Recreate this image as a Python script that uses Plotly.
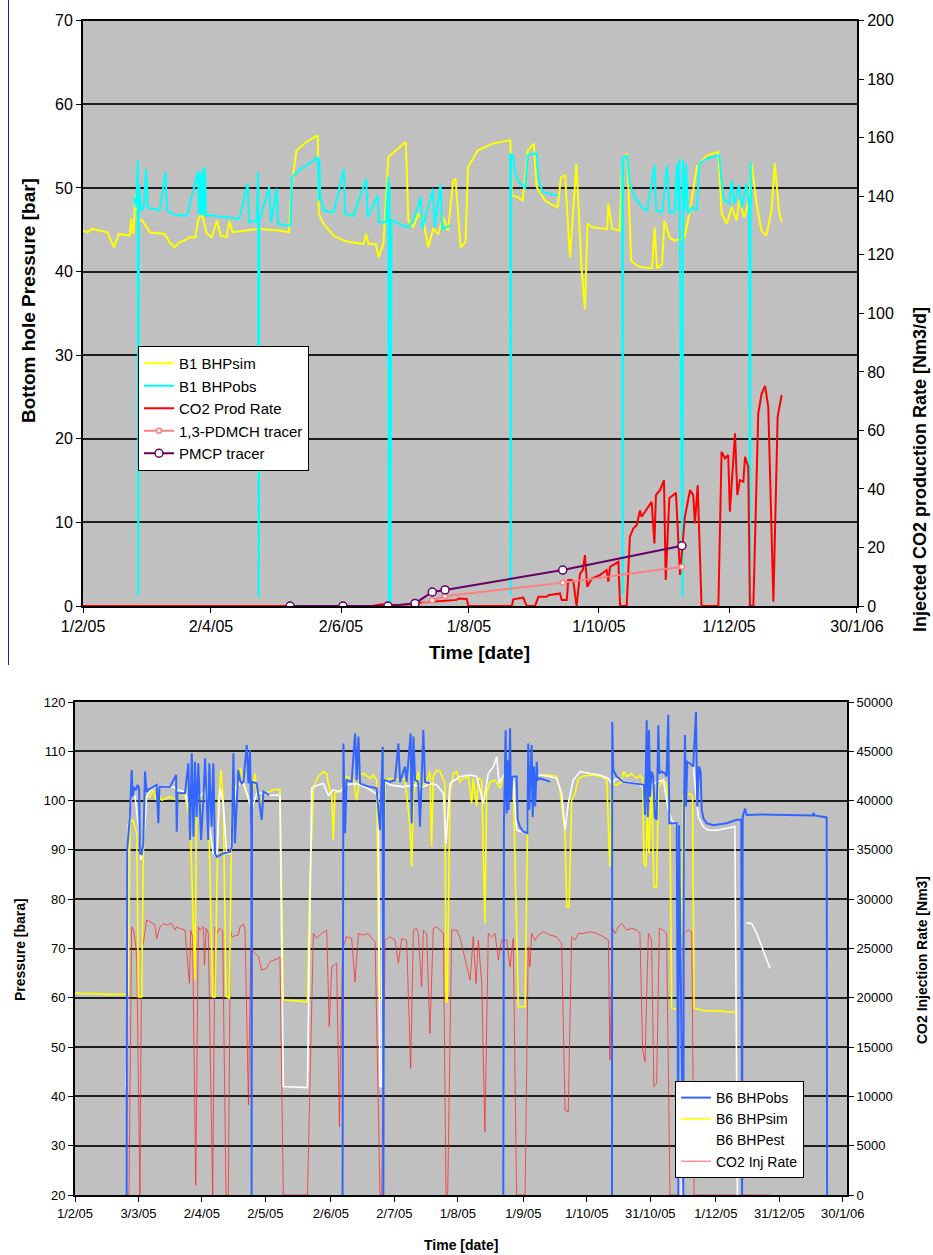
import pandas as pd
import plotly.graph_objects as go

START = pd.Timestamp("2005-02-01")

# ---------------- Well B1 (upper chart) ----------------
# (days since 1 Feb 2005, value)
b1_bhp_sim = [(0, 44.9), (2.1, 44.7), (4.4, 45.1), (7.9, 44.9), (11.4, 44.7), (14.5, 42.9), (16.8, 44.5), (21.9, 44.3),
              (22.6, 46.3), (23.6, 44.5), (24.7, 49.1), (26.1, 46.3), (27.8, 46.1), (31.3, 44.7), (38.3, 44.5), (40.6, 43.5),
              (42.9, 42.9), (45.3, 43.5), (47.6, 43.7), (49.9, 44.1), (52.7, 44.1), (54.1, 46.3), (55.8, 46.9), (58.1, 44.5),
              (60.4, 44.1), (62.8, 46.1), (64.6, 44.3), (67.4, 44.1), (68.6, 46.0), (70.2, 44.7), (77.9, 44.9), (82.6, 45.1),
              (91.9, 44.9), (96.6, 44.7), (97.8, 50.1), (100.1, 54.5), (104.8, 55.5), (109.4, 56.2), (110.1, 56.2), (110.6, 46.9),
              (112.9, 45.7), (117.6, 44.3), (122.3, 43.7), (125.7, 43.5), (131.6, 43.3), (132.8, 44.5), (133.9, 43.3), (137.4, 43.3),
              (138.6, 41.7), (140.9, 43.3), (143.2, 53.7), (146.7, 54.5), (151.4, 55.5), (152.6, 46.1), (154.9, 45.3), (157.2, 46.9),
              (159.6, 46.1), (161.9, 42.9), (164.2, 45.1), (166.6, 44.5), (168.9, 46.5), (171.2, 44.9), (173.6, 50.9), (174.7, 51.1),
              (177.1, 42.9), (179.4, 43.5), (180.6, 52.5), (185.2, 54.5), (192.2, 55.3), (200.4, 55.7), (201.1, 49.1), (203.9, 48.9),
              (206.2, 48.5), (208.6, 54.5), (211.4, 55.3), (212.8, 50.1), (216.7, 48.5), (219.1, 48.1), (222.6, 47.7), (224.2, 51.3),
              (226.1, 51.5), (228.4, 41.7), (231.4, 52.9), (233.8, 40.5), (235.4, 35.5), (236.6, 45.7), (238.9, 45.3), (245.9, 45.1),
              (246.4, 48.1), (248.2, 45.1), (251.7, 44.9), (252.9, 53.3), (255.2, 54.1), (257.1, 41.3), (259.9, 40.7), (262.2, 40.5),
              (266.9, 40.4), (268.1, 45.3), (269.2, 40.4), (271.6, 40.9), (272.7, 46.1), (275.1, 44.1), (277.4, 43.7), (282.1, 44.1),
              (284.4, 46.9), (287.9, 52.5), (292.6, 53.9), (297.9, 54.3), (299.6, 46.9), (301.9, 45.7), (304.2, 47.7), (306.6, 46.1),
              (307.7, 48.5), (310.1, 46.5), (312.4, 48.5), (313.6, 52.9), (315.9, 48.1), (318.2, 44.9), (320.5, 44.3), (322.9, 47.3),
              (324.5, 52.9), (326.4, 47.3), (327.6, 45.9)]

b1_bhp_obs = [(23.8, 48.9), (25.0, 47.7), (25.7, 53.3), (25.9, 1.3), (26.2, 50.5), (27.1, 47.3), (28.5, 47.7), (29.6, 52.3),
              (30.3, 47.7), (32.4, 47.5), (35.9, 47.3), (38.7, 51.9), (39.4, 47.3), (41.8, 46.9), (45.3, 46.7), (48.8, 46.7),
              (53.9, 51.9), (54.4, 46.9), (54.8, 51.7), (55.3, 46.7), (56.0, 52.3), (56.5, 46.7), (57.2, 52.5), (57.6, 46.7),
              (60.4, 46.7), (66.3, 46.5), (73.3, 46.3), (77.2, 50.5), (77.9, 45.9), (81.4, 46.1), (82.1, 51.9), (82.4, 1.1),
              (82.7, 46.1), (87.3, 50.1), (88.2, 45.9), (90.8, 49.9), (91.5, 45.7), (95.4, 45.5), (97.3, 45.5), (98.0, 51.3),
              (101.3, 52.1), (105.9, 52.9), (110.1, 53.7), (110.6, 48.5), (110.8, 53.5), (111.3, 48.5), (111.8, 48.5), (112.9, 47.3),
              (117.6, 47.1), (122.3, 52.3), (123.0, 46.9), (126.9, 46.7), (132.8, 51.1), (133.5, 46.5), (138.1, 49.1), (138.8, 45.9),
              (142.1, 45.9), (143.2, 51.3), (143.5, 0.1), (143.7, 50.5), (144.2, 0.1), (144.6, 46.1), (145.6, 46.1), (147.9, 45.7),
              (152.6, 45.3), (154.9, 46.1), (158.4, 48.9), (159.1, 45.1), (164.2, 49.9), (164.9, 45.3), (167.7, 50.5), (168.4, 45.1),
              (172.4, 45.5), (186.0, None), (200.4, 54.1), (200.6, 1.3), (200.8, 54.1), (201.6, 53.9), (202.7, 51.9), (203.9, 50.9),
              (206.2, 50.3), (207.4, 49.9), (208.6, 53.9), (210.9, 54.1), (212.8, 54.1), (213.7, 50.9), (215.6, 49.5), (219.1, 49.3),
              (222.6, 49.1), (238.0, None), (252.9, 53.5), (253.1, 1.3), (253.3, 53.5), (255.2, 53.9), (256.4, 50.5), (258.7, 48.9),
              (262.2, 47.7), (264.6, 47.3), (268.1, 52.7), (268.8, 47.3), (271.6, 47.1), (273.9, 52.7), (275.1, 47.1), (277.4, 47.1),
              (278.6, 52.9), (279.3, 47.3), (279.7, 53.5), (281.2, 1.1), (281.4, 53.3), (282.1, 47.3), (282.8, 52.9), (283.7, 46.9),
              (285.6, 47.7), (287.9, 47.3), (289.1, 52.9), (292.6, 53.5), (298.4, 53.9), (299.6, 50.5), (300.7, 48.5), (303.1, 48.1),
              (304.2, 50.9), (305.4, 48.1), (307.7, 50.3), (308.9, 47.7), (311.2, 50.5), (312.4, 47.9), (312.8, 0.1), (313.1, 53.1),
              (313.4, 48.0)]

# CO2 production rate, Nm3/d (right axis)
b1_co2_prod = [(0, 0), (135.5, 0), (140.0, 0.6), (148.7, 0.3), (155.7, 0.9), (163.5, 1.5), (175.3, 2.1), (176.1, 2.6),
               (180.0, 2.4), (180.7, 0), (201.1, 0), (201.8, 2.3), (206.5, 2.9), (208.1, 0), (212.0, 0), (213.6, 3.2),
               (217.5, 3.2), (218.3, 3.7), (223.7, 4.3), (224.5, 2.1), (226.9, 2.1), (227.6, 8.9), (229.2, 8.9), (230.0, 8.3),
               (231.5, 0), (233.1, 11.1), (234.4, 12.3), (235.4, 17.4), (236.5, 6.6), (238.6, 9.4), (242.5, 10.6), (245.6, 12.3),
               (246.4, 8.3), (247.2, 13.4), (251.1, 15.1), (251.9, 0), (255.0, 0), (256.5, 23.7), (258.1, 26.5), (259.7, 27.7),
               (261.2, 32.6), (262.0, 30.5), (266.7, 35.6), (268.0, 21.4), (268.7, 37.9), (270.6, 39.6), (272.5, 43.0), (273.3, 8.9),
               (275.0, 36.8), (278.1, 38.7), (280.0, 10.6), (282.3, 30.5), (284.7, 39.6), (286.2, 37.9), (287.0, 28.2), (288.3, 41.3),
               (290.1, 0), (298.0, 0), (299.5, 52.7), (301.1, 50.4), (302.6, 51.6), (303.4, 32.2), (305.8, 59.0), (306.9, 37.9),
               (308.1, 43.0), (309.7, 42.5), (310.5, 51.0), (312.0, 47.6), (312.8, 0), (314.4, 0), (316.7, 65.8), (318.3, 72.6),
               (319.9, 75.2), (321.4, 68.1), (323.8, 1.5), (325.8, 64.7), (327.7, 72.1)]

tracer_days = [97.1, 121.9, 143.0, 155.7, 163.8, 169.8, 225.0, 280.9]
pdmch_tracer = [0, 0, 0, 0, 2.0, 3.4, 8.0, 13.4]
pmcp_tracer = [0, 0, 0, 0.9, 4.8, 5.5, 12.3, 20.6]

top_ticks = ["2005-02-01", "2005-04-02", "2005-06-02", "2005-08-01", "2005-10-01", "2005-12-01", "2006-01-30"]
top_tick_text = ["1/2/05", "2/4/05", "2/6/05", "1/8/05", "1/10/05", "1/12/05", "30/1/06"]

# ---------------- Well B6 (lower chart) ----------------
b6_bhp_obs = [(24.4, 20), (24.7, 90.0), (26.0, 97.4), (26.8, 106.2), (27.3, 100.8), (27.9, 102.8), (28.7, 102.1), (29.6, 103.2),
              (30.3, 102.5), (30.7, 89.3), (31.5, 89.0), (32.3, 91.3), (33.1, 105.9), (33.9, 101.8), (34.7, 102.2), (38.6, 103.2),
              (39.4, 95.4), (39.9, 102.8), (44.9, 102.8), (47.8, 105.2), (48.1, 93.7), (48.5, 101.5), (52.0, 101.5), (53.6, 107.6),
              (54.4, 92.0), (55.2, 109.6), (56.0, 92.7), (56.7, 107.9), (57.5, 96.7), (58.3, 107.6), (59.6, 92.0), (60.7, 100.1),
              (61.5, 108.6), (62.3, 98.1), (63.0, 92.0), (63.5, 107.6), (64.6, 94.7), (65.4, 107.6), (66.2, 89.3), (67.0, 88.6),
              (70.1, 89.3), (73.3, 89.6), (74.1, 90.7), (74.9, 109.6), (75.6, 91.3), (77.2, 106.2), (78.0, 104.2), (78.8, 103.5),
              (79.6, 103.8), (81.2, 111.3), (82.0, 103.5), (82.7, 110.3), (83.4, 93.4), (83.5, 20), (83.7, 103.8), (85.9, 103.5),
              (88.3, 96.1), (89.1, 101.8), (91.9, 101.1), (110.0, None),
              (126.5, 20), (126.9, 111.6), (127.7, 93.4), (128.4, 104.2), (130.8, 103.8), (132.4, 113.6), (133.2, 104.2),
              (134.0, 113.0), (134.8, 103.5), (136.3, 103.2), (139.5, 102.8), (142.6, 102.5), (144.2, 94.0), (145.5, 110.9),
              (145.8, 20), (146.1, 104.2), (148.9, 103.8), (151.3, 104.2), (152.9, 111.6), (153.7, 103.8), (156.0, 106.9),
              (156.8, 103.8), (158.7, 113.6), (159.2, 95.4), (160.0, 113.0), (160.8, 104.2), (162.3, 103.8), (163.1, 94.7),
              (164.7, 114.3), (165.5, 103.8), (167.8, 103.5), (185.0, None),
              (202.5, 20), (202.8, 95.4), (203.6, 114.3), (204.1, 97.4), (204.6, 108.2), (205.0, 98.1), (205.7, 114.7),
              (206.1, 100.1), (206.8, 104.9), (208.8, 104.9), (209.3, 96.1), (210.4, 94.7), (212.0, 93.7), (213.9, 93.4),
              (214.3, 111.6), (214.8, 98.1), (215.4, 105.5), (215.9, 111.3), (216.4, 96.7), (217.0, 106.9), (217.6, 98.8),
              (218.3, 107.9), (218.7, 104.2), (219.9, 104.5), (222.2, 104.2), (224.6, 103.8), (240.0, None),
              (253.9, 20), (254.0, 116.0), (254.5, 106.2), (256.1, 104.9), (259.3, 103.8), (263.2, 103.5), (267.1, 103.2),
              (269.0, 103.2), (269.5, 97.1), (270.3, 116.3), (270.8, 96.7), (271.4, 114.3), (271.9, 100.8), (272.6, 105.9),
              (273.4, 104.9), (274.2, 96.7), (275.0, 96.1), (275.8, 115.3), (276.3, 105.5), (277.4, 105.9), (279.0, 105.5),
              (279.7, 104.9), (280.5, 117.4), (281.0, 95.4), (281.8, 95.4), (284.5, 95.4), (285.3, 20), (285.6, 95.0),
              (287.6, 20), (287.9, 94.7), (288.4, 113.3), (288.9, 98.8), (289.5, 107.9), (290.8, 107.6), (292.3, 106.9),
              (293.6, 118.0), (294.2, 98.8), (295.0, 106.9), (295.8, 105.9), (296.3, 98.1), (297.1, 96.4), (298.7, 95.4),
              (301.8, 95.0), (308.1, 95.4), (312.8, 96.1), (315.0, 96.1), (315.4, 20), (315.7, 96.7), (316.8, 98.4),
              (317.6, 97.1), (324.7, 97.2), (334.9, 97.1), (348.8, 97.0), (349.1, 97.5), (349.6, 97.0), (355.4, 96.6),
              (355.6, 20)]

b6_bhp_sim = [(0, 61.0), (2.4, 60.9), (13.4, 60.8), (15.0, 60.7), (25.2, 60.7), (26.0, 95.7), (27.3, 96.1), (29.2, 93.4),
              (30.0, 60.2), (31.5, 60.2), (32.6, 98.1), (33.1, 100.8), (35.5, 100.8), (37.0, 102.2), (38.3, 100.1), (39.4, 101.5),
              (41.0, 100.1), (44.9, 100.8), (48.1, 100.1), (49.6, 101.5), (52.0, 101.1), (53.6, 97.4), (54.4, 96.7), (56.7, 63.6),
              (57.5, 100.1), (58.3, 102.2), (59.9, 100.1), (61.5, 102.2), (63.0, 101.1), (65.1, 60.2), (66.2, 60.2), (67.8, 100.1),
              (69.0, 106.2), (70.1, 100.1), (71.4, 60.2), (73.0, 59.9), (74.1, 98.1), (77.2, 105.2), (78.3, 106.5), (79.6, 103.5),
              (82.7, 99.4), (85.1, 105.5), (85.9, 101.5), (87.5, 99.4), (89.1, 101.5), (91.9, 101.8), (93.8, 102.2), (96.9, 102.3),
              (98.5, 59.6), (109.9, 59.2), (110.8, 79.8), (112.7, 102.8), (115.1, 104.9), (117.4, 105.9), (119.0, 105.5),
              (119.8, 103.5), (121.4, 100.8), (122.1, 92.0), (122.9, 101.5), (124.5, 101.8), (126.1, 102.2), (128.4, 104.9),
              (131.6, 104.2), (133.2, 100.1), (134.8, 105.2), (136.3, 105.5), (139.5, 104.5), (141.1, 105.2), (142.6, 104.2),
              (143.9, 59.6), (145.0, 59.6), (146.6, 104.2), (148.9, 104.5), (153.7, 104.2), (156.0, 104.5), (158.4, 94.7),
              (159.2, 86.6), (160.0, 101.5), (162.3, 105.9), (163.1, 102.2), (166.3, 104.2), (167.8, 105.9), (168.6, 90.7),
              (169.4, 104.9), (171.0, 106.2), (172.6, 105.9), (174.9, 103.5), (175.4, 59.2), (176.0, 59.2), (177.3, 101.5),
              (178.9, 105.5), (180.5, 105.9), (182.0, 103.8), (183.6, 104.5), (186.0, 104.9), (187.5, 99.4), (188.3, 104.5),
              (189.9, 98.8), (190.7, 104.5), (192.3, 104.2), (193.1, 90.0), (193.8, 75.1), (194.6, 101.5), (196.2, 103.8),
              (198.6, 104.2), (200.9, 102.5), (204.1, 106.2), (205.7, 104.9), (207.2, 104.5), (209.6, 58.2), (212.8, 58.2),
              (213.9, 93.4), (215.1, 104.2), (216.7, 103.8), (218.3, 104.9), (221.4, 105.2), (224.6, 105.2), (227.7, 104.9),
              (229.3, 102.2), (231.7, 93.4), (232.5, 78.5), (233.6, 78.5), (234.8, 100.1), (236.4, 101.5), (238.0, 104.5),
              (240.3, 105.0), (245.1, 105.2), (249.0, 104.9), (251.4, 104.2), (252.9, 86.6), (253.7, 103.5), (256.1, 103.2),
              (258.5, 103.8), (259.3, 105.9), (260.8, 104.9), (263.2, 105.5), (265.6, 104.5), (267.1, 105.2), (268.4, 104.5),
              (269.0, 87.3), (270.0, 86.6), (270.6, 98.1), (271.4, 89.3), (272.6, 103.5), (273.7, 82.5), (275.0, 82.5),
              (275.8, 102.8), (278.2, 104.2), (279.7, 103.2), (281.3, 96.7), (282.1, 57.9), (286.0, 57.5), (287.6, 101.1),
              (289.5, 101.1), (290.8, 101.5), (292.0, 100.8), (292.7, 57.9), (295.5, 57.5), (297.1, 57.4), (306.5, 57.3),
              (307.3, 57.2), (312.8, 57.1)]

b6_bhp_est = [(24.1, 42.0), (24.7, 49.4), (25.2, 94.7), (26.8, 101.5), (28.4, 100.8), (30.0, 94.7), (31.2, 88.0), (32.3, 90.7),
              (33.9, 100.8), (36.3, 102.5), (39.4, 102.8), (43.3, 103.0), (46.5, 102.8), (48.1, 102.2), (52.0, 101.8), (53.6, 98.8),
              (55.2, 98.1), (56.7, 101.5), (59.1, 100.8), (61.5, 102.2), (63.0, 96.1), (65.4, 89.3), (67.0, 88.6), (68.6, 102.5),
              (70.1, 99.4), (71.7, 89.3), (73.3, 89.3), (74.9, 97.4), (76.4, 102.8), (78.0, 103.5), (79.6, 103.5), (81.9, 100.8),
              (83.5, 98.1), (85.9, 101.5), (88.3, 101.5), (92.2, 101.1), (96.9, 101.1), (98.5, 42.0), (109.9, 41.8), (111.0, 80.0),
              (111.9, 102.5), (115.1, 103.2), (117.4, 103.5), (119.8, 101.1), (122.1, 102.2), (125.3, 101.8), (128.4, 103.2),
              (131.6, 103.5), (134.8, 103.2), (139.5, 102.2), (143.4, 101.1), (144.2, 42.0), (145.1, 42.0), (145.8, 104.2),
              (148.9, 103.2), (155.2, 102.8), (160.0, 103.2), (164.7, 102.8), (167.8, 103.5), (171.0, 103.2), (174.2, 101.5),
              (175.4, 91.3), (177.3, 103.5), (182.0, 104.9), (186.8, 105.2), (189.9, 104.9), (193.1, 99.4), (195.4, 105.5),
              (197.8, 106.9), (199.4, 108.9), (200.5, 103.5), (201.7, 104.5), (204.1, 106.2), (207.2, 104.9), (208.8, 94.0),
              (213.5, 93.4), (215.1, 104.9), (219.9, 105.2), (224.6, 104.9), (227.7, 104.5), (230.1, 101.5), (231.7, 94.0),
              (233.2, 99.4), (235.6, 104.2), (238.8, 105.9), (243.5, 105.5), (248.2, 105.2), (252.2, 104.5), (253.7, 103.5),
              (256.1, 104.5), (260.8, 103.8), (265.6, 103.5), (268.7, 102.8), (271.9, 102.8), (275.0, 103.8), (278.2, 104.2),
              (280.5, 98.1), (282.1, 96.1), (284.5, 94.7), (285.3, 94.7), (286.0, 20), (287.0, 20), (288.4, 106.9), (290.0, 107.9),
              (292.3, 107.2), (294.7, 96.7), (297.1, 94.7), (299.4, 94.0), (303.4, 94.0), (308.1, 94.4), (312.0, 94.7),
              (313.2, 20), (315.0, None), (317.6, 75.2), (319.9, 75.1), (322.3, 73.1), (324.7, 70.4), (326.2, 68.7), (328.6, 66.0)]

# CO2 injection rate, Nm3 (right axis)
b6_co2_inj = [(24.0, 0), (25.5, 0), (26.8, 27200), (27.6, 26870), (28.4, 25860), (29.2, 24000), (30.7, 0), (31.5, 24500),
              (33.9, 27880), (35.5, 27720), (37.8, 27380), (38.6, 26030), (40.2, 27200), (41.8, 27550), (43.3, 27380),
              (45.7, 27550), (47.3, 26870), (48.1, 27200), (49.6, 27040), (52.0, 26870), (54.1, 21460), (54.7, 26870),
              (55.6, 26200), (57.1, 1000), (58.3, 27200), (59.1, 26870), (60.7, 27200), (61.2, 23320), (62.0, 27040),
              (63.0, 26530), (65.1, 0), (66.2, 27200), (67.0, 26530), (68.2, 27040), (69.8, 26800), (71.4, 0), (72.5, 0),
              (73.5, 26870), (74.1, 26200), (77.2, 26370), (78.0, 27200), (79.6, 27480), (80.4, 26870), (82.0, 9130),
              (83.1, 25000), (86.7, 24170), (88.3, 22815), (90.6, 22980), (92.2, 23660), (94.6, 23830), (96.1, 24000),
              (96.9, 24170), (98.5, 0), (109.9, 0), (112.7, 26530), (114.3, 26030), (116.6, 26530), (119.0, 26870),
              (120.2, 17070), (121.4, 23150), (123.7, 23490), (125.0, 6930), (126.5, 25000), (128.4, 26190), (130.8, 26030),
              (132.4, 21630), (134.0, 26530), (136.3, 26370), (138.7, 26530), (140.3, 26030), (141.9, 25690), (144.2, 0),
              (145.0, 0), (146.6, 25850), (148.9, 26190), (151.3, 25850), (152.9, 23490), (154.5, 26030), (156.8, 25850),
              (158.7, 12840), (160.0, 26870), (161.5, 27040), (162.3, 26530), (163.9, 21120), (164.7, 26870), (166.3, 26530),
              (167.8, 16390), (169.4, 27040), (171.0, 27210), (172.6, 26870), (174.2, 26530), (175.4, 0), (176.2, 0),
              (178.1, 26870), (180.5, 26870), (182.0, 26130), (186.8, 21800), (188.3, 26190), (189.6, 21460), (190.7, 25860),
              (192.3, 21460), (193.8, 6420), (195.4, 26530), (197.0, 26190), (198.6, 26530), (200.2, 23830), (201.7, 25860),
              (204.1, 25860), (205.7, 23150), (207.2, 26030), (208.8, 0), (212.8, 0), (214.3, 25180), (215.1, 23150),
              (215.9, 26530), (217.5, 25860), (219.1, 26370), (221.4, 26700), (224.6, 26370), (227.7, 26190), (230.1, 25520),
              (231.7, 8620), (233.2, 8450), (234.8, 26190), (236.4, 25860), (238.0, 26530), (240.3, 26530), (243.5, 26700),
              (246.6, 26530), (249.8, 26190), (252.2, 25860), (252.9, 13690), (254.2, 27040), (255.3, 26530), (256.9, 27210),
              (258.5, 27550), (260.8, 26870), (263.2, 27040), (265.6, 26870), (267.1, 26530), (268.4, 14700), (269.5, 13520),
              (271.1, 26530), (272.6, 25860), (273.7, 10980), (275.0, 11320), (276.3, 27040), (278.2, 26870), (279.7, 26530),
              (281.3, 0), (286.0, 0), (287.6, 26530), (290.0, 26870), (291.6, 26700), (292.7, 0), (328.6, 0)]

bottom_ticks = ["2005-02-01", "2005-03-03", "2005-04-02", "2005-05-02", "2005-06-02", "2005-07-02", "2005-08-01",
                "2005-09-01", "2005-10-01", "2005-10-31", "2005-12-01", "2005-12-31", "2006-01-30"]
bottom_tick_text = ["1/2/05", "3/3/05", "2/4/05", "2/5/05", "2/6/05", "2/7/05", "1/8/05",
                    "1/9/05", "1/10/05", "31/10/05", "1/12/05", "31/12/05", "30/1/06"]


def series(pairs):
    days = [p[0] for p in pairs]
    vals = [p[1] for p in pairs]
    return [START + pd.Timedelta(days=d) for d in days], vals


def dates(days):
    return [START + pd.Timedelta(days=d) for d in days]


SANS = "Liberation Sans, Arial, sans-serif"

fig = go.Figure()

# upper chart traces
x, y = series(b1_bhp_sim)
fig.add_trace(go.Scatter(x=x, y=y, name="B1 BHPsim", mode="lines", line=dict(color="#FFFF00", width=2),
                         xaxis="x", yaxis="y", legend="legend"))
x, y = series(b1_bhp_obs)
fig.add_trace(go.Scatter(x=x, y=y, name="B1 BHPobs", mode="lines", line=dict(color="#00FFFF", width=2),
                         connectgaps=False, xaxis="x", yaxis="y", legend="legend"))
x, y = series(b1_co2_prod)
fig.add_trace(go.Scatter(x=x, y=y, name="CO2 Prod Rate", mode="lines", line=dict(color="#FF0000", width=2),
                         xaxis="x", yaxis="y2", legend="legend"))
fig.add_trace(go.Scatter(x=dates(tracer_days), y=pdmch_tracer, name="1,3-PDMCH tracer", mode="lines+markers",
                         line=dict(color="#FF8080", width=2),
                         marker=dict(symbol="circle", size=5, color="white", line=dict(color="#FF8080", width=1.5)),
                         xaxis="x", yaxis="y2", legend="legend"))
fig.add_trace(go.Scatter(x=dates(tracer_days), y=pmcp_tracer, name="PMCP tracer", mode="lines+markers",
                         line=dict(color="#660066", width=2),
                         marker=dict(symbol="circle", size=8, color="white", line=dict(color="#660066", width=1.5)),
                         xaxis="x", yaxis="y2", legend="legend"))

# lower chart traces
x, y = series(b6_co2_inj)
fig.add_trace(go.Scatter(x=x, y=y, name="CO2 Inj Rate", mode="lines", line=dict(color="rgba(255,40,40,0.75)", width=1),
                         xaxis="x2", yaxis="y3", legend="legend2", legendrank=4))
x, y = series(b6_bhp_sim)
fig.add_trace(go.Scatter(x=x, y=y, name="B6 BHPsim", mode="lines", line=dict(color="#FFFF00", width=1.6),
                         xaxis="x2", yaxis="y4", legend="legend2", legendrank=2))
x, y = series(b6_bhp_est)
fig.add_trace(go.Scatter(x=x, y=y, name="B6 BHPest", mode="lines", line=dict(color="#FFFFFF", width=1.6),
                         connectgaps=False, xaxis="x2", yaxis="y4", legend="legend2", legendrank=3))
x, y = series(b6_bhp_obs)
fig.add_trace(go.Scatter(x=x, y=y, name="B6 BHPobs", mode="lines", line=dict(color="#3366FF", width=2),
                         connectgaps=False, xaxis="x2", yaxis="y4", legend="legend2", legendrank=1))

axis_common = dict(showline=True, linecolor="black", linewidth=2, ticks="outside", ticklen=5,
                   tickcolor="black", zeroline=False, automargin=False)
grid = dict(showgrid=True, gridcolor="#1e1e1e", gridwidth=1.5)
top_tick_font = dict(family=SANS, size=16, color="black")
bottom_tick_font = dict(family=SANS, size=13, color="black")


def title_note(text, x_px, y_px, size, angle=0):
    return dict(text="<b>%s</b>" % text, xref="paper", yref="paper", x=x_px / 933, y=1 - y_px / 1255,
                xanchor="center", yanchor="middle", textangle=angle, showarrow=False,
                font=dict(family=SANS, size=size, color="black"))


fig.update_layout(
    width=933, height=1255,
    margin=dict(l=0, r=0, t=0, b=0, autoexpand=False),
    paper_bgcolor="white",
    plot_bgcolor="#C0C0C0",
    showlegend=True,
    xaxis=dict(domain=[0.0890, 0.9185], anchor="y", type="date",
               range=[START, START + pd.Timedelta(days=363)],
               tickvals=top_ticks, ticktext=top_tick_text, showgrid=False, mirror=True,
               tickfont=top_tick_font, **axis_common),
    yaxis=dict(domain=[0.5171, 0.9835], anchor="x", range=[0, 70], dtick=10, mirror=True,
               tickfont=top_tick_font, **grid, **axis_common),
    yaxis2=dict(overlaying="y", side="right", anchor="x", range=[0, 200], dtick=20, showgrid=False,
                tickfont=top_tick_font, **axis_common),
    xaxis2=dict(domain=[0.0804, 0.9078], anchor="y3", type="date",
                range=[START, START + pd.Timedelta(days=365)],
                tickvals=bottom_ticks, ticktext=bottom_tick_text, showgrid=False, mirror=True,
                tickfont=bottom_tick_font, **axis_common),
    yaxis3=dict(domain=[0.0478, 0.4406], anchor="x2", side="right", range=[0, 50000], dtick=5000,
                tickformat="d", tickfont=bottom_tick_font, **grid, **axis_common),
    yaxis4=dict(overlaying="y3", side="left", anchor="x2", range=[20, 120], dtick=10, showgrid=False,
                tickfont=bottom_tick_font, **axis_common),
    legend=dict(x=138 / 933, y=1 - 346 / 1255, xanchor="left", yanchor="top", bgcolor="white",
                bordercolor="black", borderwidth=1, font=dict(family=SANS, size=15, color="black"),
                tracegroupgap=0),
    legend2=dict(x=675 / 933, y=1 - 1081 / 1255, xanchor="left", yanchor="top", bgcolor="white",
                 bordercolor="black", borderwidth=1, font=dict(family=SANS, size=14, color="black"),
                 tracegroupgap=0),
    shapes=[dict(type="line", xref="paper", yref="paper", x0=8.5 / 933, x1=8.5 / 933,
                 y0=1 - 665 / 1255, y1=1, line=dict(color="#2020A0", width=1))],
    annotations=[
        title_note("Bottom hole Pressure [bar]", 28, 301, 19, -90),
        title_note("Injected CO2 production Rate [Nm3/d]", 920, 470, 18, -90),
        title_note("Time [date]", 480, 652, 19),
        title_note("Pressure [bara]", 20, 950, 14, -90),
        title_note("CO2 Injection Rate [Nm3]", 922, 960, 14, -90),
        title_note("Time [date]", 461, 1245, 14),
    ],
)

fig.write_html("out.html")
